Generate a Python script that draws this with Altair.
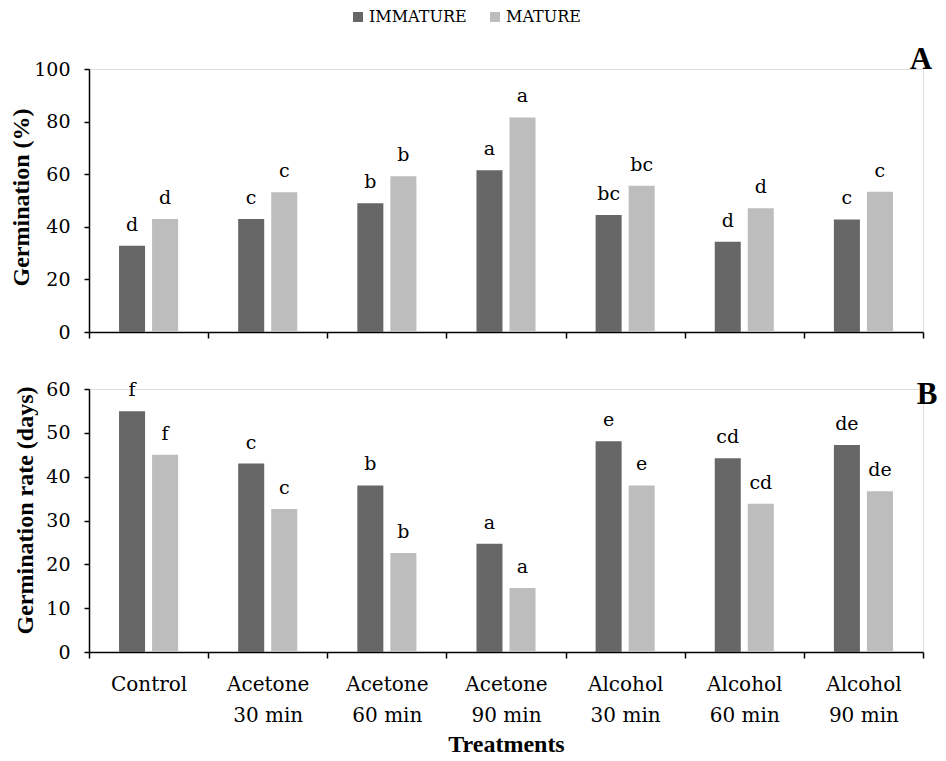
import altair as alt
import pandas as pd

treatments = ["Control", "Acetone 30 min", "Acetone 60 min", "Acetone 90 min",
              "Alcohol 30 min", "Alcohol 60 min", "Alcohol 90 min"]
groups = ["IMMATURE", "MATURE"]

germ_immature = [32.8, 43.0, 49.0, 61.5, 44.5, 34.3, 42.8]
germ_mature = [43.0, 53.1, 59.2, 81.6, 55.6, 47.1, 53.3]
germ_letters_immature = ["d", "c", "b", "a", "bc", "d", "c"]
germ_letters_mature = ["d", "c", "b", "a", "bc", "d", "c"]

rate_immature = [54.9, 43.0, 38.0, 24.7, 48.1, 44.2, 47.2]
rate_mature = [45.0, 32.6, 22.6, 14.6, 38.0, 33.8, 36.7]
rate_letters_immature = ["f", "c", "b", "a", "e", "cd", "de"]
rate_letters_mature = ["f", "c", "b", "a", "e", "cd", "de"]

colors = ["#676767", "#bdbdbd"]
FONT = "DejaVu Serif"
BOLD_FONT = "Liberation Serif"
W, H = 834, 263


def make_df(imm, mat, l_imm, l_mat):
    rows = []
    for i, t in enumerate(treatments):
        rows.append({"Treatment": t, "Group": groups[0], "value": imm[i], "letter": l_imm[i]})
        rows.append({"Treatment": t, "Group": groups[1], "value": mat[i], "letter": l_mat[i]})
    return pd.DataFrame(rows)


df_a = make_df(germ_immature, germ_mature, germ_letters_immature, germ_letters_mature)
df_b = make_df(rate_immature, rate_mature, rate_letters_immature, rate_letters_mature)

xscale = alt.Scale(domain=treatments, paddingInner=0, paddingOuter=0)
xoff = alt.XOffset("Group:N", sort=groups,
                   scale=alt.Scale(domain=groups, paddingInner=0.212, paddingOuter=0.909))

label_expr = ("indexof(datum.label, ' ') > 0 ? "
              "[slice(datum.label, 0, indexof(datum.label, ' ')), "
              "slice(datum.label, indexof(datum.label, ' ') + 1)] : datum.label")

axis_common = dict(domainColor="black", tickColor="black", domainWidth=1.5, tickWidth=1.5,
                   labelColor="black", labelFont=FONT, titleFont=BOLD_FONT, titleColor="black",
                   titleFontWeight="bold", grid=False)

x_a = alt.X("Treatment:N", sort=treatments, scale=xscale,
            axis=alt.Axis(labels=False, title=None, tickBand="extent", tickSize=6, **axis_common))
x_b = alt.X("Treatment:N", sort=treatments, scale=xscale,
            axis=alt.Axis(title="Treatments", tickBand="extent", tickSize=6,
                          labelExpr=label_expr, labelFontSize=20, labelLineHeight=31,
                          labelPadding=16, labelAngle=0, titleFontSize=24, titlePadding=7,
                          **axis_common))

y_a = alt.Y("value:Q", scale=alt.Scale(domain=[0, 100], nice=False),
            axis=alt.Axis(values=[0, 20, 40, 60, 80, 100], title="Germination (%)",
                          tickSize=5, labelPadding=14, labelFontSize=19, titleFontSize=24,
                          titleX=-56, titleY=128, titleBaseline="bottom", **axis_common))
y_b = alt.Y("value:Q", scale=alt.Scale(domain=[0, 60], nice=False),
            axis=alt.Axis(values=[0, 10, 20, 30, 40, 50, 60], title="Germination rate (days)",
                          tickSize=5, labelPadding=14, labelFontSize=19, titleFontSize=24,
                          titleX=-52, titleY=121, titleBaseline="bottom", **axis_common))

color_a = alt.Color("Group:N", sort=groups, scale=alt.Scale(domain=groups, range=colors),
                    legend=alt.Legend(title=None, orient="none", legendX=261, legendY=-60,
                                      direction="horizontal", symbolType="square",
                                      symbolSize=100, symbolStrokeWidth=0,
                                      labelFont=FONT, labelFontSize=16, labelColor="black",
                                      labelOffset=3, columnPadding=20))
color_b = alt.Color("Group:N", sort=groups, scale=alt.Scale(domain=groups, range=colors),
                    legend=None)


def panel(df, x, y, color, tag, tag_x, tag_y):
    base = alt.Chart(df)
    bars = base.mark_bar().encode(x=x, xOffset=xoff, y=y, color=color)
    letters = base.mark_text(baseline="alphabetic", dy=-15, fontSize=19, font=FONT,
                             color="black").encode(x=x, xOffset=xoff, y=y, text="letter:N")
    tag_chart = alt.Chart(pd.DataFrame({"t": [tag]})).mark_text(
        font=BOLD_FONT, fontSize=31, fontWeight="bold", color="black", align="center",
        baseline="alphabetic").encode(x=alt.value(tag_x), y=alt.value(tag_y), text="t:N")
    return alt.layer(bars, letters, tag_chart).properties(width=W, height=H)


panel_a = panel(df_a, x_a, y_a, color_a, "A", 832, 0)
panel_b = panel(df_b, x_b, y_b, color_b, "B", 838, 15)

chart = alt.vconcat(panel_a, panel_b, spacing=35).resolve_scale(color="independent").properties(
    padding={"left": 0, "top": 0, "right": 0, "bottom": 0}
).configure_view(strokeWidth=0, strokeOpacity=0).configure(background="white")

chart.save("out.html", embed_options={"renderer": "svg", "actions": False})
